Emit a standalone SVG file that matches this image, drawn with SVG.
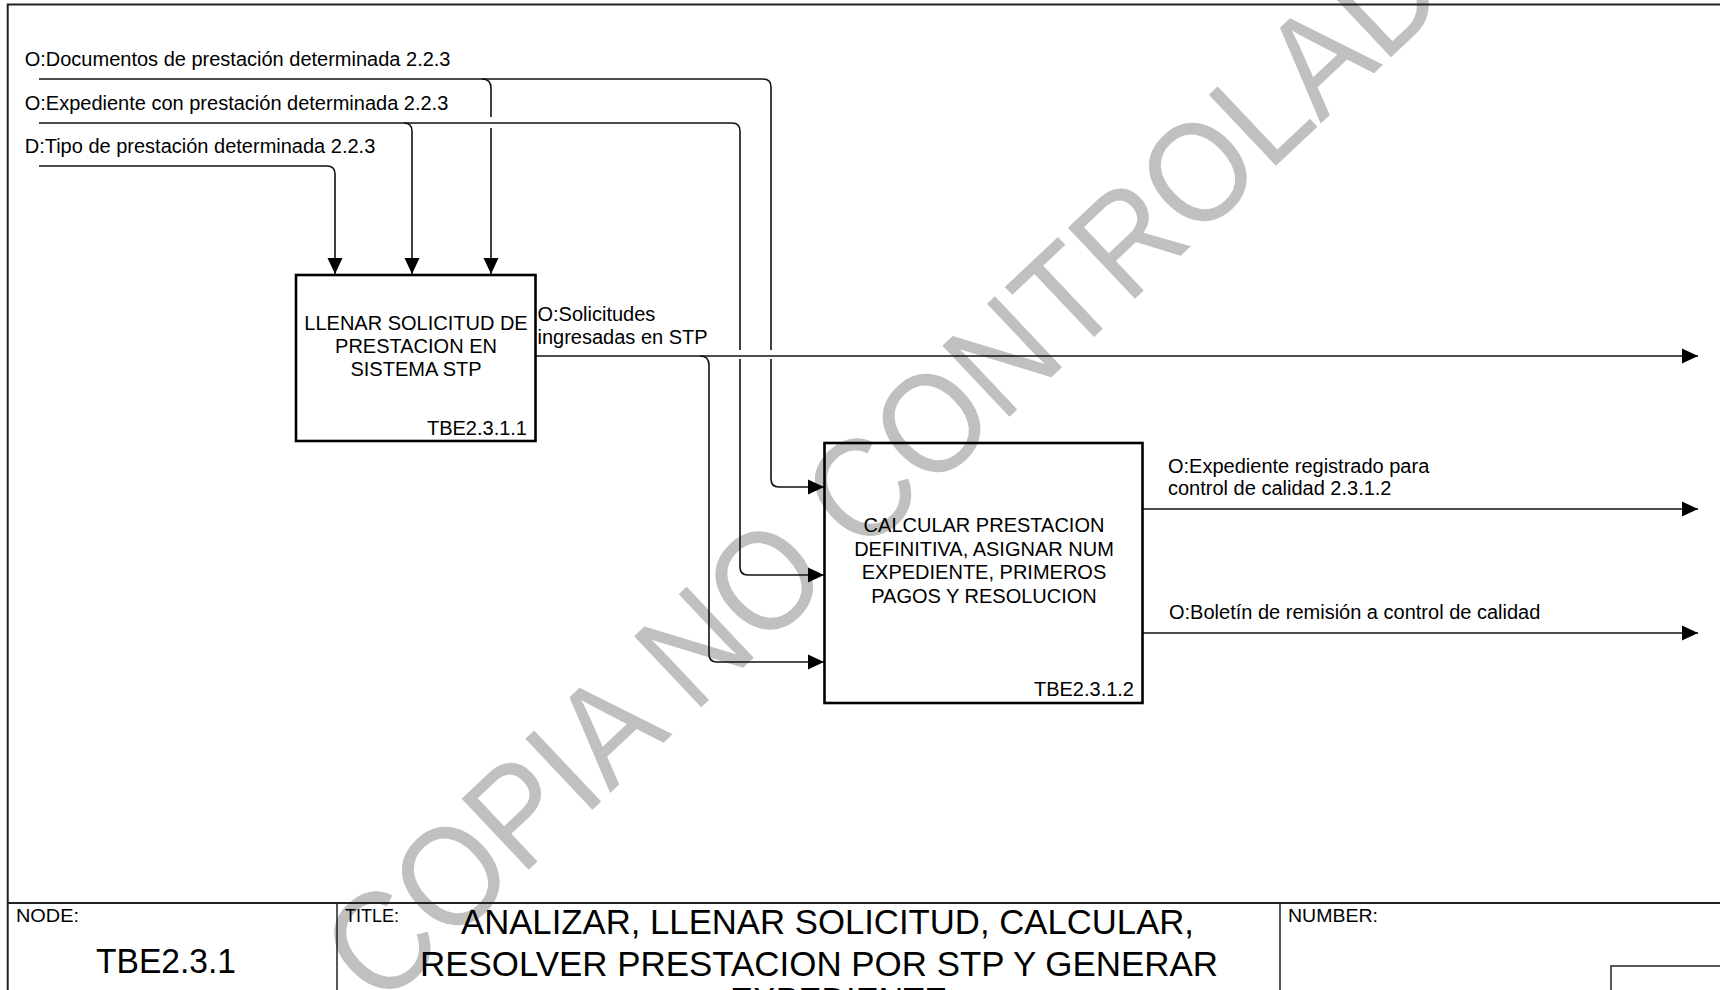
<svg xmlns="http://www.w3.org/2000/svg" width="1720" height="990" viewBox="0 0 1720 990">
<style>
.t{font-family:"Liberation Sans",Arial,sans-serif;font-size:20px;fill:#000}
.c{text-anchor:middle}
.r{text-anchor:end}
.big{font-family:"Liberation Sans",Arial,sans-serif;font-size:34.5px;fill:#000}
.lab{font-family:"Liberation Sans",Arial,sans-serif;font-size:18px;fill:#000}
.wm{font-family:"Liberation Sans",Arial,sans-serif;font-size:142px;fill:#c0c0c0}
.ln{fill:none;stroke:#111;stroke-width:1.6}
.box{fill:none;stroke:#000;stroke-width:2.6}
.frame{fill:none;stroke:#222;stroke-width:2}
</style>
<defs>
<marker id="ah" markerUnits="userSpaceOnUse" markerWidth="16" markerHeight="16" viewBox="0 0 16 16" refX="16" refY="8" orient="auto">
<path d="M0,0.5 L16,8 L0,15.5 z" fill="#000"/>
</marker>
</defs>
<rect width="1720" height="990" fill="#fff"/>
<g id="watermark">
<text class="wm" transform="translate(380,1010) rotate(-43.3) scale(0.91,1)" letter-spacing="0">COPIA NO CONTROLADA</text>
</g>
<g id="frame">
<path class="frame" d="M1720,4.6 H7.7 V990"/>
<path class="frame" d="M7.7,903 H1720"/>
<path class="frame" style="stroke-width:1.5" d="M337,903 V990 M1280,903 V990"/>
<path class="frame" style="stroke-width:1.5" d="M1720,966 H1611 V990"/>
<text class="lab" x="16" y="922" textLength="63" lengthAdjust="spacingAndGlyphs">NODE:</text>
<text class="big" x="96" y="973" textLength="140" lengthAdjust="spacingAndGlyphs">TBE2.3.1</text>
<text class="lab" x="345" y="922" textLength="54" lengthAdjust="spacingAndGlyphs">TITLE:</text>
<text class="big" x="461" y="933.5" textLength="733" lengthAdjust="spacingAndGlyphs">ANALIZAR, LLENAR SOLICITUD, CALCULAR,</text>
<text class="big" x="420" y="975.5" textLength="798" lengthAdjust="spacingAndGlyphs">RESOLVER PRESTACION POR STP Y GENERAR</text>
<text class="big" x="730" y="1012" textLength="217" lengthAdjust="spacingAndGlyphs">EXPEDIENTE</text>
<text class="lab" x="1288" y="922" textLength="90" lengthAdjust="spacingAndGlyphs">NUMBER:</text>
</g>
<g id="connectors">
<path class="ln" d="M39,79 H763 Q771,79 771,87 V350 M771,359 V479 Q771,487 779,487 H824" marker-end="url(#ah)"/>
<path class="ln" d="M482,79 Q491,79 491,88 V117 M491,128 V274" marker-end="url(#ah)"/>
<path class="ln" d="M39,123 H732 Q740,123 740,131 V350 M740,359 V567 Q740,575 748,575 H824" marker-end="url(#ah)"/>
<path class="ln" d="M404,123 Q412,123 412,131 V274" marker-end="url(#ah)"/>
<path class="ln" d="M39,166 H327 Q335,166 335,174 V274" marker-end="url(#ah)"/>
<path class="ln" d="M536,356 H1698" marker-end="url(#ah)"/>
<path class="ln" d="M700,356 Q709,356 709,365 V654 Q709,662 717,662 H824" marker-end="url(#ah)"/>
<path class="ln" d="M1143,509 H1698" marker-end="url(#ah)"/>
<path class="ln" d="M1143,633 H1698" marker-end="url(#ah)"/>
<text class="t" x="24.7" y="65.5">O:Documentos de prestación determinada 2.2.3</text>
<text class="t" x="24.7" y="109.5">O:Expediente con prestación determinada 2.2.3</text>
<text class="t" x="24.7" y="153">D:Tipo de prestación determinada 2.2.3</text>
<text class="t" x="537.5" y="321">O:Solicitudes</text>
<text class="t" x="537.5" y="344">ingresadas en STP</text>
<text class="t" x="1168" y="472.5">O:Expediente registrado para</text>
<text class="t" x="1168" y="494.5">control de calidad 2.3.1.2</text>
<text class="t" x="1169" y="619">O:Boletín de remisión a control de calidad</text>
</g>
<g id="node-TBE2.3.1.1">
<rect class="box" x="296" y="275" width="239.5" height="166"/>
<text class="t c" x="416" y="330">LLENAR SOLICITUD DE</text>
<text class="t c" x="416" y="353">PRESTACION EN</text>
<text class="t c" x="416" y="375.5">SISTEMA STP</text>
<text class="t r" x="527" y="434.5">TBE2.3.1.1</text>
</g>
<g id="node-TBE2.3.1.2">
<rect class="box" x="824.5" y="443" width="318" height="260"/>
<text class="t c" x="984" y="532">CALCULAR PRESTACION</text>
<text class="t c" x="984" y="555.5">DEFINITIVA, ASIGNAR NUM</text>
<text class="t c" x="984" y="579">EXPEDIENTE, PRIMEROS</text>
<text class="t c" x="984" y="602.5">PAGOS Y RESOLUCION</text>
<text class="t r" x="1134" y="695.5">TBE2.3.1.2</text>
</g>
</svg>
